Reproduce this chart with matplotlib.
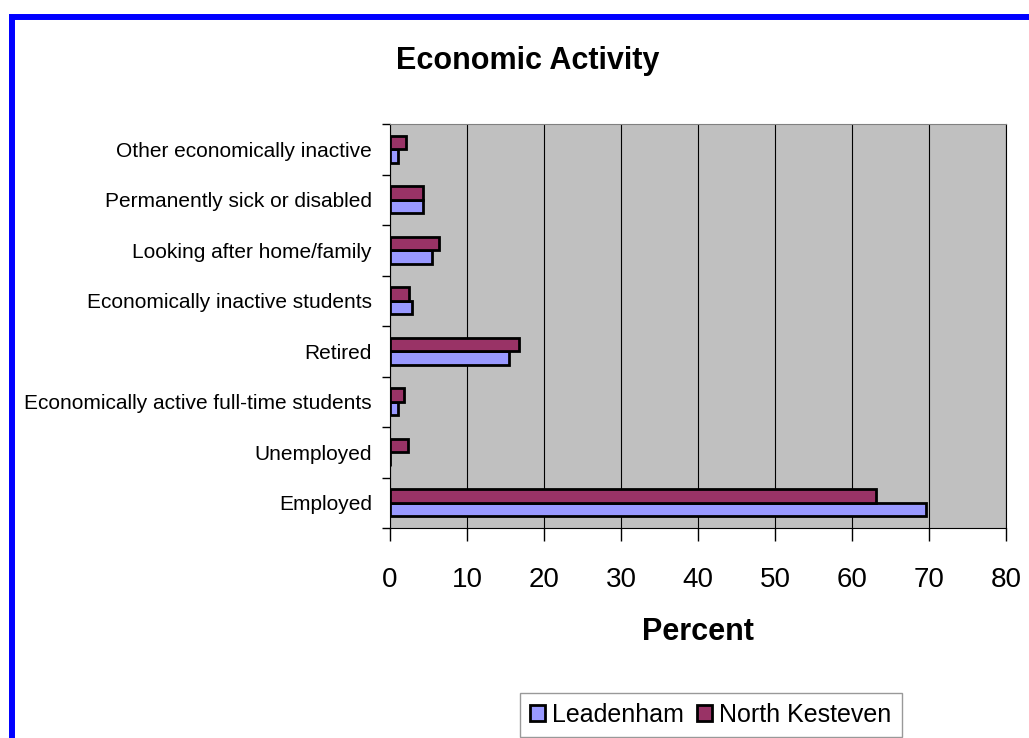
import numpy as np
import matplotlib.pyplot as plt
from matplotlib.patches import Rectangle

plt.rcParams['font.family'] = ['Liberation Sans', 'DejaVu Sans']

categories = ['Employed', 'Unemployed', 'Economically active full-time students',
              'Retired', 'Economically inactive students', 'Looking after home/family',
              'Permanently sick or disabled', 'Other economically inactive']
leadenham = [69.6, 0.0, 1.0, 15.5, 2.8, 5.4, 4.3, 1.0]
north_kesteven = [63.1, 2.3, 1.8, 16.8, 2.5, 6.4, 4.3, 2.1]
xticks = [0, 10, 20, 30, 40, 50, 60, 70, 80]

W, H = 1029, 738
fig = plt.figure(figsize=(W / 100, H / 100), dpi=100)
fig.patch.set_facecolor('white')

# blue frame, cut off on the right and bottom
fig.patches.append(Rectangle((12 / W, -0.1), 1.2, 1.1 - 16.5 / H, transform=fig.transFigure,
                             fill=False, edgecolor='#0000FF', linewidth=4.3, zorder=0))

ax = fig.add_axes([390 / W, 1 - 528 / H, (1006 - 390) / W, (528 - 124) / H])
ax.set_facecolor('#C0C0C0')

y = np.arange(len(categories))
h = 0.27
ax.barh(y - h / 2, leadenham, height=h, color='#9999FF', edgecolor='black', linewidth=2,
        label='Leadenham', zorder=3)
ax.barh(y + h / 2, north_kesteven, height=h, color='#993366', edgecolor='black', linewidth=2,
        label='North Kesteven', zorder=3)

ax.set_xlim(0, 80)
ax.set_ylim(-0.5, len(categories) - 0.5)
ax.set_xticks(xticks)
ax.set_xticklabels([str(t) for t in xticks], fontsize=20)
ax.set_yticks(y)
ax.set_yticklabels(categories, fontsize=15)
ax.set_yticks(np.arange(len(categories) + 1) - 0.5, minor=True)
ax.tick_params(axis='y', which='major', length=0, pad=13)
ax.tick_params(axis='y', which='minor', length=6, width=1, color='black')
ax.tick_params(axis='x', length=9, width=1, pad=19)
ax.grid(axis='x', color='black', linewidth=0.8, zorder=1)
ax.set_axisbelow(True)
for s in ['left', 'bottom', 'right']:
    ax.spines[s].set_color('black')
ax.spines['top'].set_color('#808080')

ax.set_xlabel('Percent', fontsize=22, fontweight='bold', labelpad=17)

fig.text(528 / W, 1 - 61 / H, 'Economic Activity', fontsize=22, fontweight='bold',
         ha='center', va='center')

fig.legend(loc='upper left', bbox_to_anchor=(520 / W, 1 - 693 / H), ncol=2, fontsize=18,
           frameon=True, fancybox=False, edgecolor='#808080', handlelength=0.6,
           handleheight=0.6, handletextpad=0.3, columnspacing=0.5, borderpad=0.4,
           borderaxespad=0)

fig.savefig('out.png', dpi=100)
